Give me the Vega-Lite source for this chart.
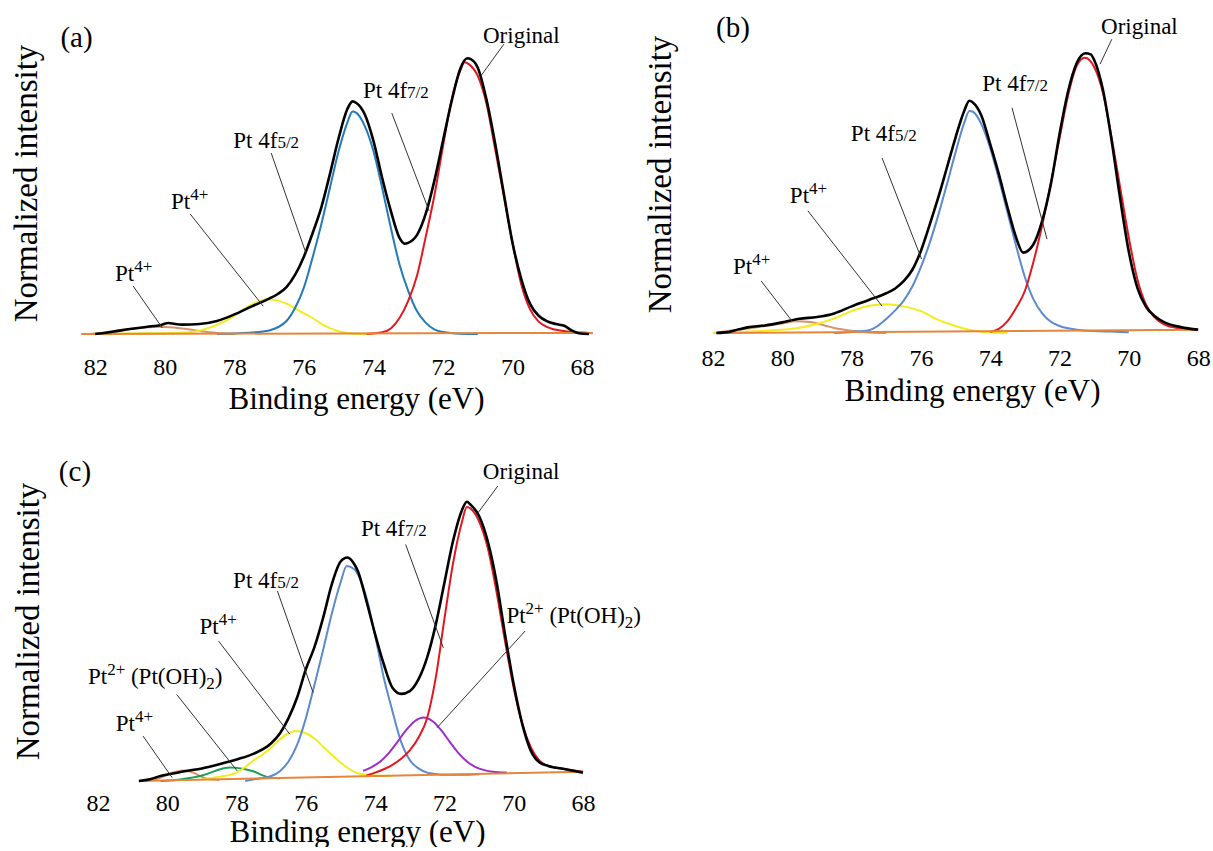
{
"$schema": "https://vega.github.io/schema/vega-lite/v6.json",
"background": "white",
"padding": {"left": 10, "top": 13, "right": 0, "bottom": 0},
"autosize": {"type": "pad"},
"config": {
 "font": "'Liberation Serif', 'Times New Roman', Tinos, 'DejaVu Serif', serif",
 "view": {"stroke": null},
 "text": {"font": "'Liberation Serif', 'Times New Roman', Tinos, 'DejaVu Serif', serif"},
 "axis": {"grid": false, "domain": false, "ticks": false, "tickSize": 0, "labelColor": "#000", "titleColor": "#000", "titleFontWeight": "normal", "labelFont": "'Liberation Serif', 'Times New Roman', Tinos, 'DejaVu Serif', serif", "titleFont": "'Liberation Serif', 'Times New Roman', Tinos, 'DejaVu Serif', serif", "labelOverlap": false, "labelFlush": false}
},
"datasets": {
"curves": [
{"p":"a","s":"pt4s","E":82.2,"v":0},{"p":"a","s":"pt4s","E":81.75,"v":0.005},{"p":"a","s":"pt4s","E":81.5,"v":0.01},{"p":"a","s":"pt4s","E":81,"v":0.018},{"p":"a","s":"pt4s","E":80.5,"v":0.024},{"p":"a","s":"pt4s","E":80.2,"v":0.026},{"p":"a","s":"pt4s","E":80,"v":0.025},{"p":"a","s":"pt4s","E":79.5,"v":0.02},{"p":"a","s":"pt4s","E":79,"v":0.011},{"p":"a","s":"pt4s","E":78.5,"v":0.004},{"p":"a","s":"pt4s","E":78,"v":0},
{"p":"a","s":"pt4","E":82.4,"v":0},{"p":"a","s":"pt4","E":81,"v":0.002},{"p":"a","s":"pt4","E":80,"v":0.003},{"p":"a","s":"pt4","E":79.5,"v":0.005},{"p":"a","s":"pt4","E":79,"v":0.012},{"p":"a","s":"pt4","E":78.5,"v":0.033},{"p":"a","s":"pt4","E":78,"v":0.066},{"p":"a","s":"pt4","E":77.75,"v":0.088},{"p":"a","s":"pt4","E":77.5,"v":0.106},{"p":"a","s":"pt4","E":77.25,"v":0.12},{"p":"a","s":"pt4","E":77.05,"v":0.127},{"p":"a","s":"pt4","E":76.75,"v":0.121},{"p":"a","s":"pt4","E":76.5,"v":0.11},{"p":"a","s":"pt4","E":76.25,"v":0.093},{"p":"a","s":"pt4","E":76,"v":0.075},{"p":"a","s":"pt4","E":75.75,"v":0.058},{"p":"a","s":"pt4","E":75.5,"v":0.037},{"p":"a","s":"pt4","E":75.25,"v":0.021},{"p":"a","s":"pt4","E":75,"v":0.01},{"p":"a","s":"pt4","E":74.75,"v":0.004},{"p":"a","s":"pt4","E":74.5,"v":0.001},{"p":"a","s":"pt4","E":74,"v":0},
{"p":"a","s":"f52a","E":78.5,"v":0},{"p":"a","s":"f52a","E":78,"v":0.002},{"p":"a","s":"f52a","E":77.5,"v":0.005},{"p":"a","s":"f52a","E":77,"v":0.013},{"p":"a","s":"f52a","E":76.5,"v":0.047},{"p":"a","s":"f52a","E":76.25,"v":0.095},{"p":"a","s":"f52a","E":76,"v":0.168},{"p":"a","s":"f52a","E":75.75,"v":0.277},{"p":"a","s":"f52a","E":75.5,"v":0.397},{"p":"a","s":"f52a","E":75.25,"v":0.53},{"p":"a","s":"f52a","E":75,"v":0.663},{"p":"a","s":"f52a","E":74.75,"v":0.766},{"p":"a","s":"f52a","E":74.6,"v":0.806},{"p":"a","s":"f52a","E":74.5,"v":0.802},{"p":"a","s":"f52a","E":74.25,"v":0.754},{"p":"a","s":"f52a","E":74,"v":0.663},{"p":"a","s":"f52a","E":73.75,"v":0.53},{"p":"a","s":"f52a","E":73.5,"v":0.385},{"p":"a","s":"f52a","E":73.25,"v":0.252},{"p":"a","s":"f52a","E":73,"v":0.156},{"p":"a","s":"f52a","E":72.75,"v":0.083},{"p":"a","s":"f52a","E":72.5,"v":0.041},{"p":"a","s":"f52a","E":72.25,"v":0.017},{"p":"a","s":"f52a","E":72,"v":0.007},{"p":"a","s":"f52a","E":71.5,"v":0.001},{"p":"a","s":"f52a","E":71,"v":0},
{"p":"a","s":"f72","E":74.2,"v":0},{"p":"a","s":"f72","E":73.75,"v":0.006},{"p":"a","s":"f72","E":73.5,"v":0.02},{"p":"a","s":"f72","E":73.25,"v":0.058},{"p":"a","s":"f72","E":73,"v":0.12},{"p":"a","s":"f72","E":72.75,"v":0.21},{"p":"a","s":"f72","E":72.5,"v":0.35},{"p":"a","s":"f72","E":72.25,"v":0.5},{"p":"a","s":"f72","E":72,"v":0.68},{"p":"a","s":"f72","E":71.75,"v":0.85},{"p":"a","s":"f72","E":71.5,"v":0.955},{"p":"a","s":"f72","E":71.38,"v":0.985},{"p":"a","s":"f72","E":71.25,"v":0.977},{"p":"a","s":"f72","E":71,"v":0.935},{"p":"a","s":"f72","E":70.75,"v":0.835},{"p":"a","s":"f72","E":70.5,"v":0.67},{"p":"a","s":"f72","E":70.25,"v":0.5},{"p":"a","s":"f72","E":70,"v":0.33},{"p":"a","s":"f72","E":69.75,"v":0.18},{"p":"a","s":"f72","E":69.5,"v":0.09},{"p":"a","s":"f72","E":69.25,"v":0.045},{"p":"a","s":"f72","E":69,"v":0.025},{"p":"a","s":"f72","E":68.5,"v":0.01},{"p":"a","s":"f72","E":68,"v":0.005},{"p":"a","s":"f72","E":67.7,"v":0.003},
{"p":"a","s":"base","E":82.4,"v":0},{"p":"a","s":"base","E":67.7,"v":0.004},
{"p":"a","s":"orig","E":82,"v":0},{"p":"a","s":"orig","E":81.8,"v":0.003},{"p":"a","s":"orig","E":81.5,"v":0.008},{"p":"a","s":"orig","E":81,"v":0.018},{"p":"a","s":"orig","E":80.5,"v":0.026},{"p":"a","s":"orig","E":80.1,"v":0.033},{"p":"a","s":"orig","E":79.9,"v":0.04},{"p":"a","s":"orig","E":79.7,"v":0.036},{"p":"a","s":"orig","E":79.5,"v":0.034},{"p":"a","s":"orig","E":79,"v":0.036},{"p":"a","s":"orig","E":78.5,"v":0.047},{"p":"a","s":"orig","E":78,"v":0.071},{"p":"a","s":"orig","E":77.5,"v":0.1},{"p":"a","s":"orig","E":77,"v":0.128},{"p":"a","s":"orig","E":76.75,"v":0.145},{"p":"a","s":"orig","E":76.5,"v":0.17},{"p":"a","s":"orig","E":76.25,"v":0.215},{"p":"a","s":"orig","E":76,"v":0.28},{"p":"a","s":"orig","E":75.75,"v":0.365},{"p":"a","s":"orig","E":75.5,"v":0.458},{"p":"a","s":"orig","E":75.25,"v":0.58},{"p":"a","s":"orig","E":75,"v":0.71},{"p":"a","s":"orig","E":74.75,"v":0.815},{"p":"a","s":"orig","E":74.6,"v":0.843},{"p":"a","s":"orig","E":74.5,"v":0.838},{"p":"a","s":"orig","E":74.25,"v":0.796},{"p":"a","s":"orig","E":74,"v":0.7},{"p":"a","s":"orig","E":73.75,"v":0.566},{"p":"a","s":"orig","E":73.5,"v":0.446},{"p":"a","s":"orig","E":73.25,"v":0.348},{"p":"a","s":"orig","E":73.1,"v":0.327},{"p":"a","s":"orig","E":73,"v":0.33},{"p":"a","s":"orig","E":72.75,"v":0.358},{"p":"a","s":"orig","E":72.5,"v":0.434},{"p":"a","s":"orig","E":72.25,"v":0.554},{"p":"a","s":"orig","E":72,"v":0.7},{"p":"a","s":"orig","E":71.75,"v":0.844},{"p":"a","s":"orig","E":71.5,"v":0.962},{"p":"a","s":"orig","E":71.3,"v":0.999},{"p":"a","s":"orig","E":71.2,"v":0.996},{"p":"a","s":"orig","E":71,"v":0.965},{"p":"a","s":"orig","E":70.75,"v":0.85},{"p":"a","s":"orig","E":70.5,"v":0.69},{"p":"a","s":"orig","E":70.25,"v":0.508},{"p":"a","s":"orig","E":70,"v":0.33},{"p":"a","s":"orig","E":69.75,"v":0.2},{"p":"a","s":"orig","E":69.5,"v":0.11},{"p":"a","s":"orig","E":69.25,"v":0.066},{"p":"a","s":"orig","E":69,"v":0.046},{"p":"a","s":"orig","E":68.75,"v":0.036},{"p":"a","s":"orig","E":68.5,"v":0.029},{"p":"a","s":"orig","E":68.3,"v":0.013},{"p":"a","s":"orig","E":68.1,"v":0.003},{"p":"a","s":"orig","E":67.8,"v":0},

{"p":"b","s":"pt4s","E":82,"v":0},{"p":"b","s":"pt4s","E":81.5,"v":0.008},{"p":"b","s":"pt4s","E":81,"v":0.016},{"p":"b","s":"pt4s","E":80.5,"v":0.025},{"p":"b","s":"pt4s","E":80,"v":0.034},{"p":"b","s":"pt4s","E":79.6,"v":0.042},{"p":"b","s":"pt4s","E":79.2,"v":0.039},{"p":"b","s":"pt4s","E":78.75,"v":0.026},{"p":"b","s":"pt4s","E":78.5,"v":0.018},{"p":"b","s":"pt4s","E":78,"v":0.008},{"p":"b","s":"pt4s","E":77.5,"v":0.002},{"p":"b","s":"pt4s","E":77,"v":0},
{"p":"b","s":"pt4","E":82,"v":0},{"p":"b","s":"pt4","E":81.5,"v":0.002},{"p":"b","s":"pt4","E":80.5,"v":0.008},{"p":"b","s":"pt4","E":79.5,"v":0.019},{"p":"b","s":"pt4","E":79,"v":0.032},{"p":"b","s":"pt4","E":78.5,"v":0.052},{"p":"b","s":"pt4","E":78,"v":0.078},{"p":"b","s":"pt4","E":77.5,"v":0.097},{"p":"b","s":"pt4","E":77,"v":0.103},{"p":"b","s":"pt4","E":76.5,"v":0.095},{"p":"b","s":"pt4","E":76,"v":0.078},{"p":"b","s":"pt4","E":75.5,"v":0.047},{"p":"b","s":"pt4","E":75,"v":0.025},{"p":"b","s":"pt4","E":74.5,"v":0.009},{"p":"b","s":"pt4","E":74,"v":0.002},{"p":"b","s":"pt4","E":73.5,"v":0},
{"p":"b","s":"f52","E":78.5,"v":0},{"p":"b","s":"f52","E":78,"v":0.004},{"p":"b","s":"f52","E":77.5,"v":0.01},{"p":"b","s":"f52","E":77.25,"v":0.025},{"p":"b","s":"f52","E":77,"v":0.05},{"p":"b","s":"f52","E":76.75,"v":0.08},{"p":"b","s":"f52","E":76.5,"v":0.115},{"p":"b","s":"f52","E":76.25,"v":0.165},{"p":"b","s":"f52","E":76,"v":0.235},{"p":"b","s":"f52","E":75.75,"v":0.32},{"p":"b","s":"f52","E":75.5,"v":0.42},{"p":"b","s":"f52","E":75.25,"v":0.53},{"p":"b","s":"f52","E":75,"v":0.645},{"p":"b","s":"f52","E":74.75,"v":0.75},{"p":"b","s":"f52","E":74.6,"v":0.793},{"p":"b","s":"f52","E":74.5,"v":0.79},{"p":"b","s":"f52","E":74.25,"v":0.745},{"p":"b","s":"f52","E":74,"v":0.66},{"p":"b","s":"f52","E":73.75,"v":0.55},{"p":"b","s":"f52","E":73.5,"v":0.43},{"p":"b","s":"f52","E":73.25,"v":0.31},{"p":"b","s":"f52","E":73,"v":0.2},{"p":"b","s":"f52","E":72.75,"v":0.12},{"p":"b","s":"f52","E":72.5,"v":0.07},{"p":"b","s":"f52","E":72.25,"v":0.04},{"p":"b","s":"f52","E":72,"v":0.025},{"p":"b","s":"f52","E":71.5,"v":0.012},{"p":"b","s":"f52","E":71,"v":0.007},{"p":"b","s":"f52","E":70.5,"v":0.005},{"p":"b","s":"f52","E":70,"v":0.003},
{"p":"b","s":"f72","E":74,"v":0.004},{"p":"b","s":"f72","E":73.75,"v":0.015},{"p":"b","s":"f72","E":73.5,"v":0.042},{"p":"b","s":"f72","E":73.25,"v":0.09},{"p":"b","s":"f72","E":73,"v":0.15},{"p":"b","s":"f72","E":72.75,"v":0.255},{"p":"b","s":"f72","E":72.5,"v":0.385},{"p":"b","s":"f72","E":72.25,"v":0.535},{"p":"b","s":"f72","E":72,"v":0.695},{"p":"b","s":"f72","E":71.75,"v":0.85},{"p":"b","s":"f72","E":71.5,"v":0.955},{"p":"b","s":"f72","E":71.27,"v":0.983},{"p":"b","s":"f72","E":71,"v":0.95},{"p":"b","s":"f72","E":70.75,"v":0.86},{"p":"b","s":"f72","E":70.5,"v":0.7},{"p":"b","s":"f72","E":70.25,"v":0.52},{"p":"b","s":"f72","E":70,"v":0.34},{"p":"b","s":"f72","E":69.75,"v":0.19},{"p":"b","s":"f72","E":69.5,"v":0.1},{"p":"b","s":"f72","E":69.25,"v":0.055},{"p":"b","s":"f72","E":69,"v":0.032},{"p":"b","s":"f72","E":68.5,"v":0.016},{"p":"b","s":"f72","E":68,"v":0.011},
{"p":"b","s":"base","E":81.9,"v":0},{"p":"b","s":"base","E":68,"v":0.012},
{"p":"b","s":"orig","E":81.9,"v":0},{"p":"b","s":"orig","E":81.5,"v":0.005},{"p":"b","s":"orig","E":81.25,"v":0.013},{"p":"b","s":"orig","E":81,"v":0.02},{"p":"b","s":"orig","E":80.5,"v":0.027},{"p":"b","s":"orig","E":80,"v":0.038},{"p":"b","s":"orig","E":79.5,"v":0.051},{"p":"b","s":"orig","E":79,"v":0.057},{"p":"b","s":"orig","E":78.5,"v":0.07},{"p":"b","s":"orig","E":78,"v":0.095},{"p":"b","s":"orig","E":77.5,"v":0.118},{"p":"b","s":"orig","E":77,"v":0.142},{"p":"b","s":"orig","E":76.75,"v":0.158},{"p":"b","s":"orig","E":76.5,"v":0.185},{"p":"b","s":"orig","E":76.25,"v":0.225},{"p":"b","s":"orig","E":76,"v":0.293},{"p":"b","s":"orig","E":75.75,"v":0.385},{"p":"b","s":"orig","E":75.5,"v":0.483},{"p":"b","s":"orig","E":75.25,"v":0.59},{"p":"b","s":"orig","E":75,"v":0.698},{"p":"b","s":"orig","E":74.75,"v":0.793},{"p":"b","s":"orig","E":74.6,"v":0.829},{"p":"b","s":"orig","E":74.5,"v":0.823},{"p":"b","s":"orig","E":74.25,"v":0.775},{"p":"b","s":"orig","E":74,"v":0.674},{"p":"b","s":"orig","E":73.75,"v":0.567},{"p":"b","s":"orig","E":73.5,"v":0.448},{"p":"b","s":"orig","E":73.25,"v":0.34},{"p":"b","s":"orig","E":73.05,"v":0.287},{"p":"b","s":"orig","E":72.75,"v":0.317},{"p":"b","s":"orig","E":72.5,"v":0.4},{"p":"b","s":"orig","E":72.25,"v":0.531},{"p":"b","s":"orig","E":72,"v":0.71},{"p":"b","s":"orig","E":71.75,"v":0.864},{"p":"b","s":"orig","E":71.5,"v":0.965},{"p":"b","s":"orig","E":71.25,"v":0.999},{"p":"b","s":"orig","E":71.1,"v":0.995},{"p":"b","s":"orig","E":71,"v":0.975},{"p":"b","s":"orig","E":70.75,"v":0.87},{"p":"b","s":"orig","E":70.5,"v":0.69},{"p":"b","s":"orig","E":70.25,"v":0.48},{"p":"b","s":"orig","E":70,"v":0.29},{"p":"b","s":"orig","E":69.75,"v":0.16},{"p":"b","s":"orig","E":69.5,"v":0.093},{"p":"b","s":"orig","E":69.25,"v":0.06},{"p":"b","s":"orig","E":69,"v":0.04},{"p":"b","s":"orig","E":68.5,"v":0.021},{"p":"b","s":"orig","E":68,"v":0.012},

{"p":"c","s":"pt4s","E":80.6,"v":0},{"p":"c","s":"pt4s","E":80.25,"v":0.01},{"p":"c","s":"pt4s","E":80,"v":0.022},{"p":"c","s":"pt4s","E":79.75,"v":0.033},{"p":"c","s":"pt4s","E":79.5,"v":0.038},{"p":"c","s":"pt4s","E":79.25,"v":0.03},{"p":"c","s":"pt4s","E":79,"v":0.015},{"p":"c","s":"pt4s","E":78.75,"v":0.006},{"p":"c","s":"pt4s","E":78.5,"v":0.004},
{"p":"c","s":"pt2s","E":80.2,"v":0},{"p":"c","s":"pt2s","E":79.75,"v":0.004},{"p":"c","s":"pt2s","E":79.5,"v":0.008},{"p":"c","s":"pt2s","E":79.25,"v":0.013},{"p":"c","s":"pt2s","E":79,"v":0.02},{"p":"c","s":"pt2s","E":78.75,"v":0.03},{"p":"c","s":"pt2s","E":78.5,"v":0.041},{"p":"c","s":"pt2s","E":78.2,"v":0.048},{"p":"c","s":"pt2s","E":78,"v":0.047},{"p":"c","s":"pt2s","E":77.75,"v":0.042},{"p":"c","s":"pt2s","E":77.5,"v":0.034},{"p":"c","s":"pt2s","E":77.25,"v":0.02},{"p":"c","s":"pt2s","E":77,"v":0.012},{"p":"c","s":"pt2s","E":76.75,"v":0.01},
{"p":"c","s":"pt4","E":79,"v":0.006},{"p":"c","s":"pt4","E":78.5,"v":0.015},{"p":"c","s":"pt4","E":78,"v":0.03},{"p":"c","s":"pt4","E":77.75,"v":0.05},{"p":"c","s":"pt4","E":77.5,"v":0.075},{"p":"c","s":"pt4","E":77.25,"v":0.095},{"p":"c","s":"pt4","E":77,"v":0.12},{"p":"c","s":"pt4","E":76.75,"v":0.149},{"p":"c","s":"pt4","E":76.5,"v":0.171},{"p":"c","s":"pt4","E":76.3,"v":0.179},{"p":"c","s":"pt4","E":76,"v":0.171},{"p":"c","s":"pt4","E":75.75,"v":0.152},{"p":"c","s":"pt4","E":75.5,"v":0.123},{"p":"c","s":"pt4","E":75.25,"v":0.094},{"p":"c","s":"pt4","E":75,"v":0.066},{"p":"c","s":"pt4","E":74.75,"v":0.043},{"p":"c","s":"pt4","E":74.5,"v":0.028},{"p":"c","s":"pt4","E":74,"v":0.02},{"p":"c","s":"pt4","E":73.5,"v":0.018},
{"p":"c","s":"f52","E":77.75,"v":0},{"p":"c","s":"f52","E":77.5,"v":0.006},{"p":"c","s":"f52","E":77,"v":0.018},{"p":"c","s":"f52","E":76.75,"v":0.035},{"p":"c","s":"f52","E":76.5,"v":0.07},{"p":"c","s":"f52","E":76.25,"v":0.13},{"p":"c","s":"f52","E":76,"v":0.225},{"p":"c","s":"f52","E":75.75,"v":0.345},{"p":"c","s":"f52","E":75.5,"v":0.47},{"p":"c","s":"f52","E":75.25,"v":0.6},{"p":"c","s":"f52","E":75,"v":0.71},{"p":"c","s":"f52","E":74.82,"v":0.77},{"p":"c","s":"f52","E":74.6,"v":0.758},{"p":"c","s":"f52","E":74.5,"v":0.74},{"p":"c","s":"f52","E":74.25,"v":0.656},{"p":"c","s":"f52","E":74,"v":0.52},{"p":"c","s":"f52","E":73.75,"v":0.37},{"p":"c","s":"f52","E":73.5,"v":0.25},{"p":"c","s":"f52","E":73.25,"v":0.14},{"p":"c","s":"f52","E":73,"v":0.075},{"p":"c","s":"f52","E":72.75,"v":0.045},{"p":"c","s":"f52","E":72.5,"v":0.03},{"p":"c","s":"f52","E":72.25,"v":0.025},{"p":"c","s":"f52","E":72,"v":0.022},{"p":"c","s":"f52","E":71.5,"v":0.022},{"p":"c","s":"f52","E":71,"v":0.024},
{"p":"c","s":"pt2","E":74.35,"v":0.036},{"p":"c","s":"pt2","E":74.1,"v":0.05},{"p":"c","s":"pt2","E":73.85,"v":0.07},{"p":"c","s":"pt2","E":73.6,"v":0.101},{"p":"c","s":"pt2","E":73.35,"v":0.141},{"p":"c","s":"pt2","E":73.1,"v":0.183},{"p":"c","s":"pt2","E":72.85,"v":0.215},{"p":"c","s":"pt2","E":72.6,"v":0.227},{"p":"c","s":"pt2","E":72.35,"v":0.215},{"p":"c","s":"pt2","E":72.1,"v":0.183},{"p":"c","s":"pt2","E":71.85,"v":0.141},{"p":"c","s":"pt2","E":71.6,"v":0.101},{"p":"c","s":"pt2","E":71.35,"v":0.07},{"p":"c","s":"pt2","E":71.1,"v":0.05},{"p":"c","s":"pt2","E":70.85,"v":0.039},{"p":"c","s":"pt2","E":70.6,"v":0.033},{"p":"c","s":"pt2","E":70.2,"v":0.03},
{"p":"c","s":"f72","E":74.25,"v":0.02},{"p":"c","s":"f72","E":74,"v":0.03},{"p":"c","s":"f72","E":73.75,"v":0.042},{"p":"c","s":"f72","E":73.5,"v":0.058},{"p":"c","s":"f72","E":73.25,"v":0.08},{"p":"c","s":"f72","E":73,"v":0.11},{"p":"c","s":"f72","E":72.75,"v":0.155},{"p":"c","s":"f72","E":72.5,"v":0.225},{"p":"c","s":"f72","E":72.25,"v":0.37},{"p":"c","s":"f72","E":72,"v":0.58},{"p":"c","s":"f72","E":71.75,"v":0.78},{"p":"c","s":"f72","E":71.5,"v":0.925},{"p":"c","s":"f72","E":71.35,"v":0.981},{"p":"c","s":"f72","E":71.25,"v":0.976},{"p":"c","s":"f72","E":71,"v":0.93},{"p":"c","s":"f72","E":70.75,"v":0.835},{"p":"c","s":"f72","E":70.5,"v":0.68},{"p":"c","s":"f72","E":70.25,"v":0.5},{"p":"c","s":"f72","E":70,"v":0.334},{"p":"c","s":"f72","E":69.75,"v":0.203},{"p":"c","s":"f72","E":69.5,"v":0.119},{"p":"c","s":"f72","E":69.25,"v":0.072},{"p":"c","s":"f72","E":69,"v":0.054},{"p":"c","s":"f72","E":68.5,"v":0.042},{"p":"c","s":"f72","E":68,"v":0.033},
{"p":"c","s":"base","E":80.82,"v":0},{"p":"c","s":"base","E":68,"v":0.033},
{"p":"c","s":"orig","E":80.82,"v":0},{"p":"c","s":"orig","E":80.5,"v":0.006},{"p":"c","s":"orig","E":80.2,"v":0.018},{"p":"c","s":"orig","E":80,"v":0.023},{"p":"c","s":"orig","E":79.5,"v":0.035},{"p":"c","s":"orig","E":79,"v":0.045},{"p":"c","s":"orig","E":78.5,"v":0.06},{"p":"c","s":"orig","E":78,"v":0.077},{"p":"c","s":"orig","E":77.5,"v":0.098},{"p":"c","s":"orig","E":77,"v":0.135},{"p":"c","s":"orig","E":76.75,"v":0.17},{"p":"c","s":"orig","E":76.5,"v":0.225},{"p":"c","s":"orig","E":76.25,"v":0.3},{"p":"c","s":"orig","E":76,"v":0.4},{"p":"c","s":"orig","E":75.75,"v":0.48},{"p":"c","s":"orig","E":75.5,"v":0.585},{"p":"c","s":"orig","E":75.25,"v":0.705},{"p":"c","s":"orig","E":75,"v":0.785},{"p":"c","s":"orig","E":74.8,"v":0.8},{"p":"c","s":"orig","E":74.6,"v":0.776},{"p":"c","s":"orig","E":74.5,"v":0.752},{"p":"c","s":"orig","E":74.25,"v":0.644},{"p":"c","s":"orig","E":74,"v":0.525},{"p":"c","s":"orig","E":73.75,"v":0.418},{"p":"c","s":"orig","E":73.5,"v":0.334},{"p":"c","s":"orig","E":73.25,"v":0.312},{"p":"c","s":"orig","E":73,"v":0.322},{"p":"c","s":"orig","E":72.75,"v":0.364},{"p":"c","s":"orig","E":72.5,"v":0.442},{"p":"c","s":"orig","E":72.25,"v":0.56},{"p":"c","s":"orig","E":72,"v":0.71},{"p":"c","s":"orig","E":71.75,"v":0.86},{"p":"c","s":"orig","E":71.5,"v":0.968},{"p":"c","s":"orig","E":71.35,"v":1},{"p":"c","s":"orig","E":71.25,"v":0.99},{"p":"c","s":"orig","E":71,"v":0.949},{"p":"c","s":"orig","E":70.75,"v":0.859},{"p":"c","s":"orig","E":70.5,"v":0.716},{"p":"c","s":"orig","E":70.25,"v":0.525},{"p":"c","s":"orig","E":70,"v":0.346},{"p":"c","s":"orig","E":69.75,"v":0.203},{"p":"c","s":"orig","E":69.5,"v":0.107},{"p":"c","s":"orig","E":69.25,"v":0.066},{"p":"c","s":"orig","E":69,"v":0.054},{"p":"c","s":"orig","E":68.5,"v":0.042},{"p":"c","s":"orig","E":68,"v":0.03}
],
"labels": [
{"p":"a","E":70.85,"v":1.054,"t":"Original"},
{"p":"a","E":74.3,"v":0.855,"t":"Pt 4f","frac":"7/2"},
{"p":"a","E":78.03,"v":0.674,"t":"Pt 4f","frac":"5/2"},
{"p":"a","E":79.82,"v":0.453,"t":"Pt","sup":"4+"},
{"p":"a","E":81.43,"v":0.192,"t":"Pt","sup":"4+"},
{"p":"b","E":70.8,"v":1.068,"t":"Original"},
{"p":"b","E":74.23,"v":0.864,"t":"Pt 4f","frac":"7/2"},
{"p":"b","E":78.02,"v":0.686,"t":"Pt 4f","frac":"5/2"},
{"p":"b","E":79.78,"v":0.464,"t":"Pt","sup":"4+"},
{"p":"b","E":81.42,"v":0.211,"t":"Pt","sup":"4+"},
{"p":"c","E":70.89,"v":1.081,"t":"Original"},
{"p":"c","E":74.41,"v":0.877,"t":"Pt 4f","frac":"7/2"},
{"p":"c","E":78.1,"v":0.692,"t":"Pt 4f","frac":"5/2"},
{"p":"c","E":79.07,"v":0.525,"t":"Pt","sup":"4+"},
{"p":"c","E":82.29,"v":0.346,"t":"Pt","sup":"2+","rest":"(Pt(OH)","sub":"2","close":")"},
{"p":"c","E":81.49,"v":0.179,"t":"Pt","sup":"4+"},
{"p":"c","E":70.21,"v":0.567,"t":"Pt","sup":"2+","rest":"(Pt(OH)","sub":"2","close":")"}
],
"leaders": [
{"p":"a","E":70.25,"v":1.05,"E2":70.91,"v2":0.935},
{"p":"a","E":73.47,"v":0.8,"E2":72.4,"v2":0.446},
{"p":"a","E":76.94,"v":0.656,"E2":75.94,"v2":0.293},
{"p":"a","E":79.27,"v":0.435,"E2":77.17,"v2":0.101},
{"p":"a","E":80.91,"v":0.174,"E2":80.07,"v2":0.022},
{"p":"b","E":70.49,"v":1.049,"E2":70.83,"v2":0.96},
{"p":"b","E":73.37,"v":0.804,"E2":72.36,"v2":0.335},
{"p":"b","E":77.12,"v":0.625,"E2":75.98,"v2":0.264},
{"p":"b","E":79.26,"v":0.436,"E2":77.12,"v2":0.096},
{"p":"b","E":80.61,"v":0.186,"E2":79.72,"v2":0.043},
{"p":"c","E":70.46,"v":1.056,"E2":71.06,"v2":0.955},
{"p":"c","E":73.12,"v":0.847,"E2":72.03,"v2":0.477},
{"p":"c","E":76.82,"v":0.68,"E2":75.79,"v2":0.316},
{"p":"c","E":78.52,"v":0.501,"E2":76.46,"v2":0.167},
{"p":"c","E":79.73,"v":0.31,"E2":77.98,"v2":0.036},
{"p":"c","E":80.7,"v":0.161,"E2":79.86,"v2":0.012},
{"p":"c","E":69.67,"v":0.537,"E2":72.21,"v2":0.191}
],
"tags": [
{"p":"a","E":83.0,"v":1.04,"t":"(a)"},
{"p":"b","E":81.91,"v":1.057,"t":"(b)"},
{"p":"c","E":83.13,"v":1.074,"t":"(c)"}
]
},
"columns": 2,
"spacing": {"row": 129, "column": 110},
"bounds": "flush",
"concat": [
{
 "width": 546, "height": 320,
 "encoding": {
  "x": {"field": "E", "type": "quantitative", "scale": {"domain": [83.3, 67.6], "nice": false, "zero": false}, "axis": {"values": [82,80,78,76,74,72,70,68], "labelFontSize": 24, "labelPadding": 40, "labelBaseline": "alphabetic", "title": "Binding energy (eV)", "titleFontSize": 31, "titleX": 306, "titleY": 74, "titleBaseline": "alphabetic"}},
  "y": {"field": "v", "type": "quantitative", "scale": {"domain": [0, 1.1594], "nice": false, "zero": false}, "axis": {"labels": false, "title": "Normalized intensity", "titleFontSize": 33, "titleX": -14, "titleY": 169, "titleBaseline": "alphabetic"}}
 },
 "layer": [
  {"data": {"name": "curves"}, "transform": [{"filter": "datum.p === 'a' && datum.s !== 'orig'"}], "mark": {"type": "line", "interpolate": "monotone", "strokeWidth": 2}, "encoding": {"color": {"field": "s", "type": "nominal", "scale": {"domain": ["orig","f72","f52a","f52","pt4","pt4s","pt2","pt2s","base"], "range": ["#000000","#E3171F","#2479B8","#5B8AD0","#F2EC1C","#D9916A","#9B2FC9","#1E9E55","#E4863C"]}, "legend": null}}},
  {"data": {"name": "curves"}, "transform": [{"filter": "datum.p === 'a' && datum.s === 'orig'"}], "mark": {"type": "line", "interpolate": "monotone", "strokeWidth": 2.6, "color": "#000000"}, "encoding": {}},
  {"data": {"name": "leaders"}, "transform": [{"filter": "datum.p === 'a'"}], "mark": {"type": "rule", "color": "#333333", "strokeWidth": 1}, "encoding": {"x2": {"field": "E2"}, "y2": {"field": "v2"}}},
  {"data": {"name": "labels"}, "transform": [{"filter": "datum.p === 'a'"}], "mark": {"type": "text", "align": "left", "baseline": "alphabetic", "fontSize": 23, "color": "#000000"}, "encoding": {"text": {"field": "t"}}},
  {"data": {"name": "labels"}, "transform": [{"filter": "datum.p === 'a' && datum.sup"}], "mark": {"type": "text", "align": "left", "baseline": "alphabetic", "fontSize": 17, "dx": 19.2, "dy": -9, "color": "#000000"}, "encoding": {"text": {"field": "sup"}}},
  {"data": {"name": "labels"}, "transform": [{"filter": "datum.p === 'a' && datum.frac"}], "mark": {"type": "text", "align": "left", "baseline": "alphabetic", "fontSize": 17, "dx": 44.1, "color": "#000000"}, "encoding": {"text": {"field": "frac"}}},
  {"data": {"name": "tags"}, "transform": [{"filter": "datum.p === 'a'"}], "mark": {"type": "text", "align": "left", "baseline": "alphabetic", "fontSize": 29, "color": "#000000"}, "encoding": {"text": {"field": "t"}}}
 ]
},
{
 "width": 506, "height": 319,
 "encoding": {
  "x": {"field": "E", "type": "quantitative", "scale": {"domain": [82.2, 67.6], "nice": false, "zero": false}, "axis": {"values": [82,80,78,76,74,72,70,68], "labelFontSize": 24, "labelPadding": 32, "labelBaseline": "alphabetic", "title": "Binding energy (eV)", "titleFontSize": 31, "titleX": 266, "titleY": 67, "titleBaseline": "alphabetic"}},
  "y": {"field": "v", "type": "quantitative", "scale": {"domain": [0, 1.139], "nice": false, "zero": false}, "axis": {"labels": false, "title": "Normalized intensity", "titleFontSize": 33, "titleX": -36, "titleY": 160, "titleBaseline": "alphabetic"}}
 },
 "layer": [
  {"data": {"name": "curves"}, "transform": [{"filter": "datum.p === 'b' && datum.s !== 'orig'"}], "mark": {"type": "line", "interpolate": "monotone", "strokeWidth": 2}, "encoding": {"color": {"field": "s", "type": "nominal", "scale": {"domain": ["orig","f72","f52a","f52","pt4","pt4s","pt2","pt2s","base"], "range": ["#000000","#E3171F","#2479B8","#5B8AD0","#F2EC1C","#E07B3C","#9B2FC9","#1E9E55","#E4863C"]}, "legend": null}}},
  {"data": {"name": "curves"}, "transform": [{"filter": "datum.p === 'b' && datum.s === 'orig'"}], "mark": {"type": "line", "interpolate": "monotone", "strokeWidth": 2.6, "color": "#000000"}, "encoding": {}},
  {"data": {"name": "leaders"}, "transform": [{"filter": "datum.p === 'b'"}], "mark": {"type": "rule", "color": "#333333", "strokeWidth": 1}, "encoding": {"x2": {"field": "E2"}, "y2": {"field": "v2"}}},
  {"data": {"name": "labels"}, "transform": [{"filter": "datum.p === 'b'"}], "mark": {"type": "text", "align": "left", "baseline": "alphabetic", "fontSize": 23, "color": "#000000"}, "encoding": {"text": {"field": "t"}}},
  {"data": {"name": "labels"}, "transform": [{"filter": "datum.p === 'b' && datum.sup"}], "mark": {"type": "text", "align": "left", "baseline": "alphabetic", "fontSize": 17, "dx": 19.2, "dy": -9, "color": "#000000"}, "encoding": {"text": {"field": "sup"}}},
  {"data": {"name": "labels"}, "transform": [{"filter": "datum.p === 'b' && datum.frac"}], "mark": {"type": "text", "align": "left", "baseline": "alphabetic", "fontSize": 17, "dx": 44.1, "color": "#000000"}, "encoding": {"text": {"field": "frac"}}},
  {"data": {"name": "tags"}, "transform": [{"filter": "datum.p === 'b'"}], "mark": {"type": "text", "align": "left", "baseline": "alphabetic", "fontSize": 29, "color": "#000000"}, "encoding": {"text": {"field": "t"}}}
 ]
},
{
 "width": 546, "height": 318,
 "encoding": {
  "x": {"field": "E", "type": "quantitative", "scale": {"domain": [83.386, 67.624], "nice": false, "zero": false}, "axis": {"values": [82,80,78,76,74,72,70,68], "labelFontSize": 24, "labelPadding": 29, "labelBaseline": "alphabetic", "title": "Binding energy (eV)", "titleFontSize": 31, "titleX": 307, "titleY": 60, "titleBaseline": "alphabetic"}},
  "y": {"field": "v", "type": "quantitative", "scale": {"domain": [0, 1.1386], "nice": false, "zero": false}, "axis": {"labels": false, "title": "Normalized intensity", "titleFontSize": 33, "titleX": -12, "titleY": 158, "titleBaseline": "alphabetic"}}
 },
 "layer": [
  {"data": {"name": "curves"}, "transform": [{"filter": "datum.p === 'c' && datum.s !== 'orig'"}], "mark": {"type": "line", "interpolate": "monotone", "strokeWidth": 2}, "encoding": {"color": {"field": "s", "type": "nominal", "scale": {"domain": ["orig","f72","f52a","f52","pt4","pt4s","pt2","pt2s","base"], "range": ["#000000","#E3171F","#2479B8","#5B8AD0","#F2EC1C","#D98A3C","#9B2FC9","#1E9E55","#E4863C"]}, "legend": null}}},
  {"data": {"name": "curves"}, "transform": [{"filter": "datum.p === 'c' && datum.s === 'orig'"}], "mark": {"type": "line", "interpolate": "monotone", "strokeWidth": 2.6, "color": "#000000"}, "encoding": {}},
  {"data": {"name": "leaders"}, "transform": [{"filter": "datum.p === 'c'"}], "mark": {"type": "rule", "color": "#333333", "strokeWidth": 1}, "encoding": {"x2": {"field": "E2"}, "y2": {"field": "v2"}}},
  {"data": {"name": "labels"}, "transform": [{"filter": "datum.p === 'c'"}], "mark": {"type": "text", "align": "left", "baseline": "alphabetic", "fontSize": 23, "color": "#000000"}, "encoding": {"text": {"field": "t"}}},
  {"data": {"name": "labels"}, "transform": [{"filter": "datum.p === 'c' && datum.sup"}], "mark": {"type": "text", "align": "left", "baseline": "alphabetic", "fontSize": 17, "dx": 19.2, "dy": -9, "color": "#000000"}, "encoding": {"text": {"field": "sup"}}},
  {"data": {"name": "labels"}, "transform": [{"filter": "datum.p === 'c' && datum.frac"}], "mark": {"type": "text", "align": "left", "baseline": "alphabetic", "fontSize": 17, "dx": 44.1, "color": "#000000"}, "encoding": {"text": {"field": "frac"}}},
  {"data": {"name": "labels"}, "transform": [{"filter": "datum.p === 'c' && datum.rest"}], "mark": {"type": "text", "align": "left", "baseline": "alphabetic", "fontSize": 23, "dx": 43, "color": "#000000"}, "encoding": {"text": {"field": "rest"}}},
  {"data": {"name": "labels"}, "transform": [{"filter": "datum.p === 'c' && datum.sub"}], "mark": {"type": "text", "align": "left", "baseline": "alphabetic", "fontSize": 17, "dx": 118.4, "dy": 5, "color": "#000000"}, "encoding": {"text": {"field": "sub"}}},
  {"data": {"name": "labels"}, "transform": [{"filter": "datum.p === 'c' && datum.close"}], "mark": {"type": "text", "align": "left", "baseline": "alphabetic", "fontSize": 23, "dx": 126.9, "color": "#000000"}, "encoding": {"text": {"field": "close"}}},
  {"data": {"name": "tags"}, "transform": [{"filter": "datum.p === 'c'"}], "mark": {"type": "text", "align": "left", "baseline": "alphabetic", "fontSize": 29, "color": "#000000"}, "encoding": {"text": {"field": "t"}}}
 ]
}
]
}
